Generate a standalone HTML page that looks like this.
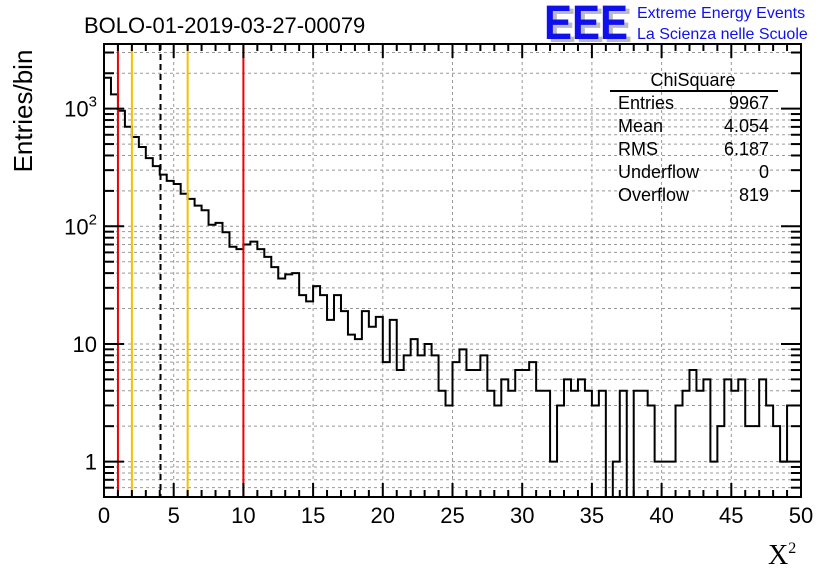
<!DOCTYPE html>
<html><head><meta charset="utf-8"><style>
body{margin:0;background:#fff;width:836px;height:572px;overflow:hidden;font-family:"Liberation Sans",sans-serif;position:relative}
svg{display:block}
</style></head><body>
<svg id="c" width="836" height="572" xmlns="http://www.w3.org/2000/svg"></svg>
<script>
const counts = [1830,1322,960,702,574,472,380,325,275,243,229,189,171,150,137,103,107,89,67,64,
70,74,64,55,45,36,39,40,26,23,31,26,16,26,19,12,11,19,14,17,
7,16,6,8,11,8,10,8,4,3,7,9,6,6,8,4,3,5,4,6,
6,7,4,4,1,3,5,4,5,4,3,4,0,1,4,0,4,4,3,1,
1,1,3,4,6,4,5,1,2,5,4,5,2,2,5,3,2,1,3,3];
const binWidth = 0.5;
const xTickLabels = ["0","5","10","15","20","25","30","35","40","45","50"];
const yTickValues = [1,10,100,1000];
const markerRed = [1,10];
const markerYellow = [2,6];
const markerMean = [4.054];

const L=104,R=801,T=44,B=497,ymin=Math.log10(0.5),ymax=Math.log10(3545);
const sx=v=>L+v/50*(R-L);
const sy=v=>{if(v<=0)return B;const l=Math.log10(v);return B-(l-ymin)/(ymax-ymin)*(B-T);};
const svg=document.getElementById('c');const NS="http://www.w3.org/2000/svg";
function mk(tag,attrs,parent){const e=document.createElementNS(NS,tag);for(const k in attrs)e.setAttribute(k,attrs[k]);(parent||svg).appendChild(e);return e;}

const grid=mk('g',{});


for(let i=1;i<xTickLabels.length-1;i++){const x=sx(+xTickLabels[i]);mk('line',{x1:x,x2:x,y1:T,y2:B,stroke:'#999','stroke-dasharray':'3,3','stroke-width':1},grid);}
for(let e=-1;e<=3;e++){for(let m=1;m<=9;m++){const v=m*Math.pow(10,e);if(v<0.5||v>3545)continue;const y=sy(v);mk('line',{x1:L,x2:R,y1:y,y2:y,stroke:'#999','stroke-dasharray':'3,3','stroke-width':1},grid);}}

let d='';
for(let i=0;i<counts.length;i++){const x0=sx(i*binWidth),x1=sx((i+1)*binWidth),y=sy(counts[i]);
 d+=(i===0?`M${x0},${y}`:`L${x0},${y}`)+`L${x1},${y}`;}
const hp=mk('path',{d:d,fill:'none',stroke:'#000','stroke-width':2});



markerRed.forEach(v=>{const l=mk('line',{x1:sx(v),x2:sx(v),y1:T,y2:B,stroke:'#e00','stroke-width':2});

});
markerYellow.forEach(v=>{const l=mk('line',{x1:sx(v),x2:sx(v),y1:T,y2:B,stroke:'#f5c000','stroke-width':2});

});
markerMean.forEach(v=>{const l=mk('line',{x1:sx(v),x2:sx(v),y1:T,y2:B,stroke:'#000','stroke-width':2,'stroke-dasharray':'6,4'});

});

const fr=mk('rect',{x:L,y:T,width:R-L,height:B-T,fill:'none',stroke:'#000','stroke-width':2});



for(let v=0;v<=50;v++){const x=sx(v),len=v%5===0?14:7;
 mk('line',{x1:x,x2:x,y1:B,y2:B-len,stroke:'#000','stroke-width':2});
 mk('line',{x1:x,x2:x,y1:T,y2:T+len,stroke:'#000','stroke-width':2});}
xTickLabels.forEach(s=>{const t=mk('text',{x:sx(+s),y:523,'text-anchor':'middle','font-size':22});t.textContent=s;

});
for(let e=-1;e<=3;e++){for(let m=1;m<=9;m++){const v=m*Math.pow(10,e);if(v<0.5||v>3545)continue;const y=sy(v),len=m===1?20:10;
 mk('line',{x1:L,x2:L+len,y1:y,y2:y,stroke:'#000','stroke-width':2});
 mk('line',{x1:R,x2:R-len,y1:y,y2:y,stroke:'#000','stroke-width':2});}}
yTickValues.forEach(v=>{const y=sy(v);const t=mk('text',{x:97,y:y+8,'text-anchor':'end','font-size':22});
 if(v>=100){t.textContent='10';const s=mk('tspan',{dy:-10,'font-size':15},t);s.textContent=String(Math.round(Math.log10(v)));}
 else t.textContent=String(v);
 
 });
</script>
<svg style="position:absolute;left:0;top:0" width="836" height="572" xmlns="http://www.w3.org/2000/svg">
<text x="84" y="33" font-size="22" font-family="Liberation Sans">BOLO-01-2019-03-27-00079</text>
<text transform="translate(32,111) rotate(-90)" text-anchor="middle" font-size="26" font-family="Liberation Sans">Entries/bin</text>
<text x="768" y="564" font-size="28" font-family="Liberation Serif">X<tspan dy="-11" font-size="16">2</tspan></text>
<g font-family="Liberation Sans" font-weight="bold">
<text x="548" y="42" font-size="48" fill="#bbb" textLength="84" lengthAdjust="spacingAndGlyphs">EEE</text>
<text x="544" y="39" font-size="48" fill="#1010ee" textLength="84" lengthAdjust="spacingAndGlyphs">EEE</text>
<text x="637" y="18" font-size="16" font-weight="normal" fill="#1010ee">Extreme Energy Events</text>
<text x="637" y="39" font-size="16" font-weight="normal" fill="#1010ee">La Scienza nelle Scuole</text>
</g>
<g font-family="Liberation Sans" font-size="18">
<text x="693" y="86" text-anchor="middle">ChiSquare</text>
<line x1="610" y1="91" x2="778" y2="91" stroke="#000" stroke-width="2"/>
<text x="618" y="109">Entries</text><text x="769" y="109" text-anchor="end">9967</text>
<text x="618" y="132">Mean</text><text x="769" y="132" text-anchor="end">4.054</text>
<text x="618" y="155">RMS</text><text x="769" y="155" text-anchor="end">6.187</text>
<text x="618" y="178">Underflow</text><text x="769" y="178" text-anchor="end">0</text>
<text x="618" y="201">Overflow</text><text x="769" y="201" text-anchor="end">819</text>
</g>
</svg>
</body></html>
